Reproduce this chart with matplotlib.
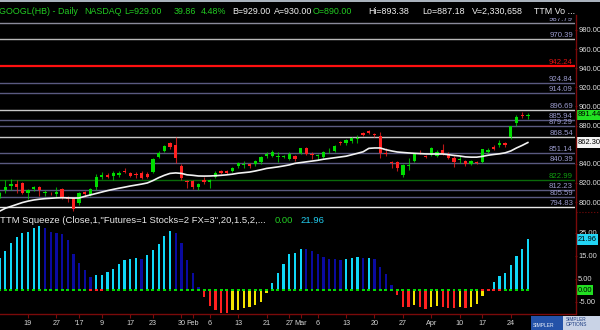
import matplotlib
matplotlib.use("Agg")
import matplotlib.pyplot as plt
import matplotlib.transforms as mtransforms
from matplotlib.patches import Rectangle
from matplotlib.lines import Line2D
import numpy as np
import pandas as pd

plt.rcParams['font.family'] = ['Liberation Sans', 'DejaVu Sans']

# ---------------- data ----------------
holidays = ['2016-12-26', '2017-01-02', '2017-01-16', '2017-02-20', '2017-04-14']
dates = pd.bdate_range('2016-12-12', '2017-04-27').drop(pd.to_datetime(holidays))

opens = [806.4, 812.6, 816.8, 818.9, 820.0, 809.5, 813.7, 815.8, 809.5, 809.8,
         808.5, 813.7, 804.5, 804.3, 799.0, 810.5, 807.4, 815.8, 826.2, 828.3,
         827.3, 828.3, 833.0, 830.4, 829.0, 830.4, 829.4, 831.5, 847.1, 853.4,
         861.8, 859.7, 837.7, 821.5, 822.1, 815.8, 823.1, 821.0, 826.2, 832.5,
         832.5, 832.5, 837.7, 839.0, 839.8, 839.8, 841.9, 848.2, 848.2, 847.0,
         847.3, 845.0, 848.2, 851.3, 856.6, 850.0, 848.5, 847.0, 853.0, 853.4,
         862.8, 861.8, 863.9, 866.0, 872.3, 874.4, 870.8, 869.0, 850.5, 841.9,
         841.9, 828.3, 838.0, 843.0, 852.8, 848.2, 849.2, 848.2, 854.5, 850.3,
         846.1, 844.0, 843.0, 839.8, 841.9, 841.9, 852.4, 857.6, 859.7, 861.8,
         868.1, 882.7, 891.6, 890.00]
highs = [811.0, 823.0, 824.0, 823.0, 821.0, 814.0, 817.0, 817.0, 813.0, 811.0,
         816.0, 815.0, 806.0, 805.0, 811.0, 812.0, 815.0, 829.0, 831.0, 830.0,
         832.0, 832.0, 836.0, 831.0, 831.0, 833.0, 831.0, 846.0, 853.0, 860.0,
         863.0, 868.0, 840.0, 823.0, 823.0, 820.0, 826.0, 824.0, 832.0, 834.0,
         834.0, 837.0, 842.0, 843.0, 841.0, 844.0, 848.0, 852.0, 854.0, 852.0,
         849.0, 852.0, 849.0, 857.0, 858.0, 852.0, 850.0, 853.0, 856.6, 860.0,
         864.0, 866.0, 868.0, 870.0, 873.0, 875.0, 872.0, 873.0, 856.6, 843.0,
         843.0, 840.0, 846.0, 851.0, 854.0, 849.0, 858.0, 854.0, 861.0, 852.0,
         848.0, 848.2, 844.0, 844.0, 843.0, 856.0, 857.0, 860.0, 864.9, 863.0,
         880.0, 891.0, 893.9, 893.38]
lows = [804.0, 809.5, 812.6, 809.5, 808.0, 803.0, 812.0, 806.0, 806.0, 807.0,
        805.0, 803.0, 800.0, 790.5, 797.0, 805.0, 806.0, 813.0, 824.0, 825.0,
        823.0, 826.0, 830.0, 826.0, 825.0, 824.0, 825.0, 830.0, 846.0, 852.0,
        855.0, 841.0, 823.0, 815.0, 814.0, 813.0, 819.0, 815.0, 825.0, 829.0,
        829.0, 831.0, 836.0, 835.6, 836.0, 838.0, 840.0, 846.0, 847.0, 842.0,
        846.0, 844.0, 843.0, 850.0, 849.0, 845.0, 844.0, 846.0, 851.0, 852.0,
        860.0, 860.0, 862.0, 861.8, 869.0, 871.0, 868.0, 846.0, 848.2, 836.0,
        833.0, 826.0, 833.6, 842.0, 850.0, 846.0, 848.0, 847.0, 849.0, 845.0,
        836.7, 840.9, 837.7, 838.8, 839.8, 841.0, 851.0, 854.0, 858.0, 858.0,
        866.0, 880.0, 887.5, 887.18]
closes = [809.5, 815.8, 818.9, 815.8, 809.5, 812.6, 815.8, 812.6, 810.5, 809.0,
          810.5, 804.3, 803.6, 792.5, 809.5, 808.5, 813.7, 826.2, 828.3, 826.2,
          830.4, 830.4, 831.5, 827.3, 828.5, 825.2, 826.2, 845.0, 851.3, 858.7,
          857.6, 846.1, 825.2, 821.0, 815.8, 818.9, 821.0, 823.1, 830.4, 830.4,
          830.9, 835.6, 840.9, 839.5, 837.7, 843.0, 847.1, 850.3, 852.4, 847.5,
          848.2, 850.3, 845.0, 856.6, 850.3, 849.5, 849.0, 852.4, 853.5, 858.7,
          861.8, 864.9, 867.0, 866.5, 870.2, 872.3, 869.7, 851.3, 850.0, 840.9,
          835.6, 838.8, 839.0, 850.3, 852.0, 847.3, 856.6, 852.4, 850.3, 846.1,
          841.9, 844.5, 839.8, 843.0, 840.9, 855.5, 854.5, 855.5, 861.8, 859.7,
          879.6, 889.0, 890.2, 891.44]
ma_values = [790.5, 793.5, 795.5, 797.5, 799.5, 801.0, 802.2, 803.0, 803.6, 804.0,
             804.4, 804.6, 804.4, 804.2, 804.3, 806.0, 807.5, 809.0, 810.5, 812.0,
             813.3, 814.5, 815.6, 816.8, 817.8, 818.8, 820.0, 822.5, 825.5, 828.0,
             830.0, 830.5, 830.0, 828.5, 828.0, 827.3, 827.2, 827.3, 827.6, 828.0,
             828.5, 829.2, 830.2, 830.8, 831.4, 832.5, 833.8, 835.2, 836.0, 836.8,
             837.8, 838.9, 840.5, 841.3, 842.1, 842.9, 843.7, 844.8, 845.6, 846.4,
             847.2, 848.0, 849.5, 851.0, 852.6, 856.2, 856.6, 856.6, 854.8, 853.5,
             852.4, 851.9, 851.4, 851.0, 850.7, 850.4, 850.3, 850.3, 850.3, 849.6,
             848.8, 848.2, 847.3, 847.0, 847.0, 847.8, 849.0, 849.8, 850.5, 851.5,
             853.5, 856.6, 859.3, 862.3]
squeeze = [14.0, 17.0, 20.4, 23.0, 24.9, 25.4, 27.0, 27.7, 27.0, 25.4,
           24.9, 24.4, 21.6, 15.8, 11.9, 8.6, 5.7, 6.5, 6.7, 7.9,
           9.3, 11.5, 12.9, 13.6, 14.1, 13.6, 15.1, 17.2, 20.1, 23.4,
           25.6, 24.9, 20.5, 12.9, 7.2, 1.1, -2.9, -6.9, -8.6, -9.8,
           -10.1, -8.6, -8.5, -7.9, -7.5, -6.5, -5.0, -1.1, 2.9, 7.5,
           11.5, 15.5, 16.1, 18.0, 17.7, 17.0, 15.5, 14.4, 13.6, 13.5,
           13.2, 13.6, 13.9, 14.4, 13.9, 14.1, 13.6, 10.1, 6.9, 2.2,
           -2.2, -7.5, -7.6, -6.5, -7.5, -8.2, -7.2, -7.1, -7.5, -7.8,
           -8.0, -7.5, -7.8, -7.2, -6.2, -2.4, -0.3, 3.3, 6.0, 7.6,
           10.8, 14.8, 18.0, 21.96]
squeeze_on_dates = ['2017-01-05', '2017-01-06', '2017-01-09',
                    '2017-04-17', '2017-04-18', '2017-04-19', '2017-04-20']
fib_levels = [987.79, 970.39, 942.24, 924.84, 914.09, 896.69, 885.94, 879.29,
              868.54, 851.14, 840.39, 822.99, 812.23, 805.59, 794.83, 788.18]
price_ticks = [800, 820, 840, 880, 900, 920, 940, 960, 980]
osc_ticks = [-5, 5, 15, 25]
tick_dates = ['2016-12-19', '2016-12-27', '2017-01-03', '2017-01-09', '2017-01-17',
              '2017-01-23', '2017-01-30', '2017-02-01', '2017-02-06', '2017-02-13',
              '2017-02-21', '2017-02-27', '2017-03-01', '2017-03-06', '2017-03-13',
              '2017-03-20', '2017-03-27', '2017-04-03', '2017-04-10', '2017-04-17',
              '2017-04-24']
tick_labels = ['19', '27', "'17", '9', '17', '23', '30', 'Feb', '6', '13', '21', '27',
               'Mar', '6', '13', '20', '27', 'Apr', '10', '17', '24']
header_parts = [("GOOGL(HB) - Daily", 'g'), ("NASDAQ", 'g'), ("L=929.00", 'g'),
                ("39.86", 'g'), ("4.48%", 'g'), ("B=929.00", 'w'), ("A=930.00", 'w'),
                ("O=890.00", 'g'), ("Hi=893.38", 'w'), ("Lo=887.18", 'w'),
                ("V=2,330,658", 'w'), ("TTM Vo ...", 'w')]
last_price = 891.44
ma_last = 862.30
osc_last = 21.96

# ---------------- style ----------------
W, H = 600, 330
GREEN = '#00dd00'
RED = '#ff2020'
CYAN = '#10d8f8'
NAVY = '#0a0aa0'
YELLOW = '#f4e400'
DARKRED = '#7a0a0a'


def fx(px):
    return px / W


def fy(py):
    return 1 - py / H


fig = plt.figure(figsize=(6, 3.3), dpi=100, facecolor='black')
P_TOP, P_BOT, O_BOT, RIGHT = 16, 212, 314, 575
ax = fig.add_axes([0, fy(P_BOT), fx(RIGHT), (P_BOT - P_TOP) / H])
ax2 = fig.add_axes([0, fy(O_BOT), fx(RIGHT), (O_BOT - P_BOT) / H], sharex=ax)

pxu = 0.956  # pixels per price unit
ax.set_ylim(980 - (P_BOT - 30) / pxu, 980 + (30 - P_TOP) / pxu)
ax2.set_ylim(-(O_BOT - 290) / 2.3, (290 - P_BOT) / 2.3)
ax.set_xlim(0.07, 101.3)

for a in (ax, ax2):
    a.set_facecolor('black')
    for s in a.spines.values():
        s.set_visible(False)

x = np.arange(len(dates))

# fib lines
fib_style = {987.79: ('#8a8a9a', '#9a9acc'), 970.39: ('#b8b8b8', '#9a9acc'),
             942.24: ('#ff1010', '#dd1010'), 924.84: ('#5a5a80', '#9a9acc'),
             914.09: ('#5a5a80', '#9a9acc'), 896.69: ('#c8c8c8', '#9a9acc'),
             885.94: ('#5a5a80', '#9a9acc'), 879.29: ('#5a5a80', '#9a9acc'),
             868.54: ('#c8c8c8', '#9a9acc'), 851.14: ('#5a5a80', '#9a9acc'),
             840.39: ('#5a5a80', '#9a9acc'), 822.99: ('#0a6a0a', '#10a010'),
             812.23: ('#5a5a80', '#9a9acc'), 805.59: ('#5a5a80', '#9a9acc'),
             794.83: ('#e8e8e8', '#9a9acc'), 788.18: ('#5a5a80', '#9a9acc')}
trans = mtransforms.blended_transform_factory(ax.transAxes, ax.transData)
for lv in fib_levels:
    lc, tc = fib_style[lv]
    ax.axhline(lv, color=lc, lw=1.6 if lv == 942.24 else 1.0, zorder=1)
    ax.annotate(f'{lv:.2f}', xy=(0.9965, lv), xycoords=trans, xytext=(0, 2),
                textcoords='offset pixels', ha='right', va='baseline',
                fontsize=5.6, color=tc, zorder=2, annotation_clip=True, clip_on=True)

# candles
O = np.array(opens); C = np.array(closes)
Hh = np.array(highs); L = np.array(lows)
ccol = np.where(C >= O, GREEN, RED)
ax.vlines(x, L, Hh, colors=ccol, lw=0.8, alpha=0.75, zorder=3)
ax.bar(x, np.maximum(np.abs(C - O), 0.9), bottom=np.minimum(O, C), width=0.58,
       color=ccol, linewidth=0, zorder=4)
ax.plot(x, ma_values, color='#f2f2f2', lw=1.2, zorder=5)

# price axis
ax.tick_params(axis='x', bottom=False, labelbottom=False)
ax.yaxis.tick_right()
ax.set_yticks(price_ticks)
ax.set_yticklabels([f'{t:.2f}' for t in price_ticks])
ax.tick_params(axis='y', colors=DARKRED, labelcolor='#dcdcdc', labelsize=5.4,
               length=1.5, width=0.8, pad=0.8)

box_kw = dict(ha='left', va='center', fontsize=5.4, color='black', clip_on=False, zorder=10)
trans2 = mtransforms.blended_transform_factory(ax2.transAxes, ax2.transData)
ax.text(1.004, last_price, f'{last_price:.2f}', transform=trans,
        bbox=dict(boxstyle='square,pad=0.22', fc='#22e022', ec='none'), **box_kw)
ax.text(1.004, ma_last, f'{ma_last:.2f}', transform=trans,
        bbox=dict(boxstyle='square,pad=0.22', fc='#f4f4f4', ec='none'), **box_kw)

# oscillator
v = np.array(squeeze)
prev = np.concatenate([[v[0] - 1], v[:-1]])
hcol = np.where(v >= 0, np.where(v > prev, CYAN, NAVY), np.where(v < prev, RED, YELLOW))
ax2.bar(x, v, width=0.4, color=hcol, linewidth=0, zorder=3)
on = dates.isin(pd.to_datetime(squeeze_on_dates))
dcol = np.where(on, RED, GREEN)
ax2.scatter(x, np.zeros(len(x)), marker='s', s=4.5, c=dcol, linewidths=0, zorder=5,
            clip_on=True)

ax2.yaxis.tick_right()
ax2.set_yticks(osc_ticks)
ax2.set_yticklabels([f'{t:.2f}' for t in osc_ticks])
ax2.tick_params(axis='y', colors=DARKRED, labelcolor='#dcdcdc', labelsize=5.4,
                length=1.5, width=0.8, pad=0.8)
ax2.text(1.004, osc_last, f'{osc_last:.2f}', transform=trans2,
         bbox=dict(boxstyle='square,pad=0.22', fc='#22d4f4', ec='none'), **box_kw)
ax2.text(1.004, 0, '0.00', transform=trans2,
         bbox=dict(boxstyle='square,pad=0.22', fc='#22e022', ec='none'), **box_kw)

tpos = [dates.get_loc(pd.Timestamp(d)) for d in tick_dates]
ax2.set_xticks(tpos)
ax2.set_xticklabels(tick_labels)
ax2.spines['bottom'].set_visible(True)
ax2.spines['bottom'].set_color(DARKRED)
ax2.spines['bottom'].set_linewidth(1.0)
ax2.tick_params(axis='x', colors=DARKRED, labelcolor='#d4d4d4', labelsize=5.2,
                length=3, width=0.8, pad=1.5)

# indicator title
ax2.text(0.0, 1 - (223 - P_BOT) / (O_BOT - P_BOT),
         'TTM Squeeze (Close,1,"Futures=1 Stocks=2 FX=3",20,1.5,2,...',
         transform=ax2.transAxes, ha='left', va='baseline', fontsize=6.8,
         color='#e8e8e8', zorder=6)
fig.text(fx(275), fy(223), '0.00', ha='left', va='baseline', fontsize=6.8,
         color='#22cc22', zorder=6)
fig.text(fx(300), fy(223), f'{osc_last:.2f}', ha='left', va='baseline', fontsize=6.8,
         color='#22ccee', zorder=6)

# header
fig.add_artist(Rectangle((0, fy(17.5)), 1, 17.5 / H, transform=fig.transFigure,
                         fc='black', ec='none', zorder=5))
fig.add_artist(Rectangle((0, fy(1.5)), 1, 1.5 / H, transform=fig.transFigure,
                         fc='#a9b2bc', ec='none', zorder=5))
hx = [-1, 84, 124, 174, 201, 232, 274, 313, 368, 422, 472, 534]
for (txt, c), px in zip(header_parts, hx):
    fig.text(fx(px), fy(13.5), txt, ha='left', va='baseline', fontsize=6.4,
             color='#22cc22' if c == 'g' else '#f0f0f0', zorder=6)

# separators
fig.add_artist(Line2D([fx(575.5)] * 2, [fy(15), fy(314)], color=DARKRED, lw=1.0,
                      transform=fig.transFigure, zorder=6))
fig.add_artist(Line2D([fx(575.5), 1], [fy(212)] * 2, color=DARKRED, lw=0.8, ls=':',
                      transform=fig.transFigure, zorder=6))

# logo
fig.add_artist(Rectangle((fx(531), 0), fx(69), 14 / H, transform=fig.transFigure,
                         fc='#2452a8', ec='none', zorder=5))
fig.add_artist(Rectangle((fx(563), 0), fx(37), 14 / H, transform=fig.transFigure,
                         fc='#c9d3e6', ec='none', zorder=5))
fig.text(fx(533), fy(327), 'SIMPLER', fontsize=3.6, color='#e8eef8', zorder=6,
         ha='left', va='baseline')
fig.text(fx(566), fy(322), 'SIMPLER\nOPTIONS', fontsize=3.4, color='#1a3a80',
         zorder=6, ha='left', va='center', linespacing=0.9)

fig.savefig('out.png', dpi=100, facecolor='black')
